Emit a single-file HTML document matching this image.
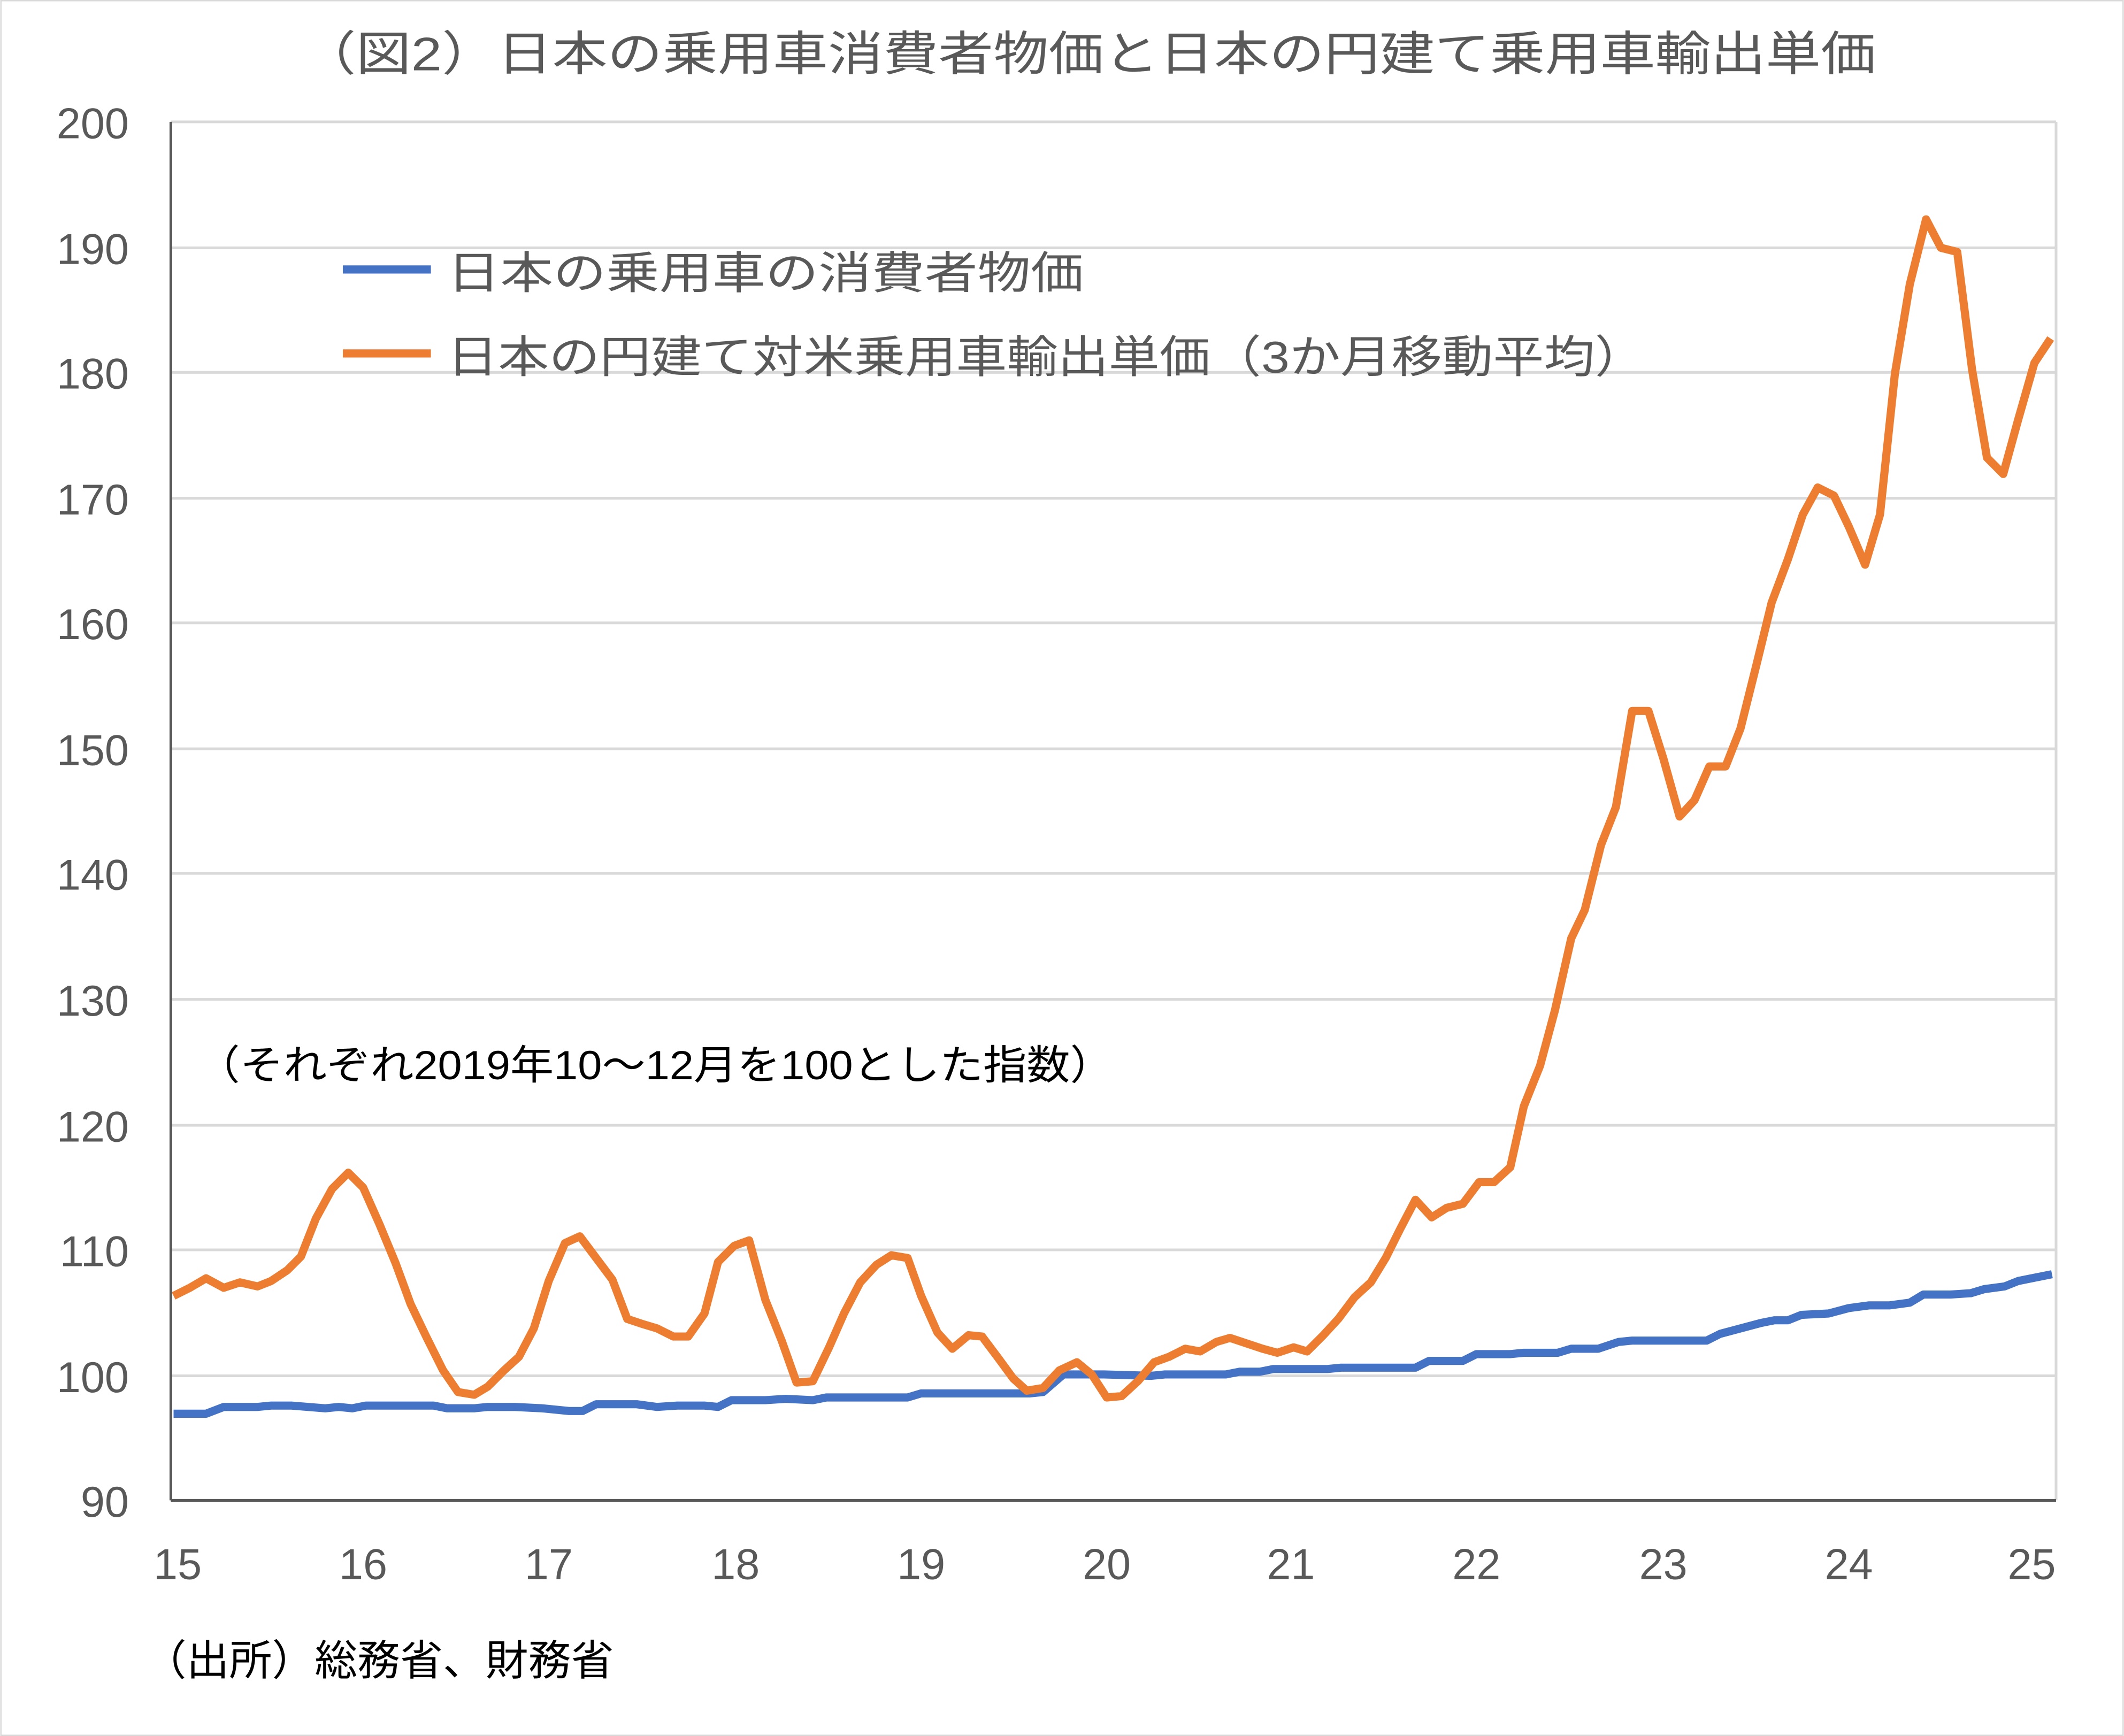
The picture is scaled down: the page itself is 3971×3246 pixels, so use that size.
<!DOCTYPE html>
<html><head><meta charset="utf-8"><style>
html,body{margin:0;padding:0;background:#fff}
svg{display:block}
text{font-family:"Liberation Sans","Noto Sans CJK JP",sans-serif}
</style></head><body>
<svg width="3971" height="3246" viewBox="0 0 1568 1282" xmlns="http://www.w3.org/2000/svg">
<rect x="0.5" y="0.5" width="1567" height="1281" fill="#fff" stroke="#d9d9d9" stroke-width="1"/>
<text x="222" y="52" font-size="35" fill="#595959" textLength="1163" lengthAdjust="spacingAndGlyphs">（図2）日本の乗用車消費者物価と日本の円建て乗用車輸出単価</text>
<g stroke="#d9d9d9" stroke-width="2">
<line x1="126" y1="90" x2="1518" y2="90"/><line x1="126" y1="183" x2="1518" y2="183"/>
<line x1="126" y1="275" x2="1518" y2="275"/><line x1="126" y1="368" x2="1518" y2="368"/>
<line x1="126" y1="460" x2="1518" y2="460"/><line x1="126" y1="553" x2="1518" y2="553"/>
<line x1="126" y1="645" x2="1518" y2="645"/><line x1="126" y1="738" x2="1518" y2="738"/>
<line x1="126" y1="831" x2="1518" y2="831"/><line x1="126" y1="923" x2="1518" y2="923"/>
<line x1="126" y1="1016" x2="1518" y2="1016"/>
<line x1="1518" y1="90" x2="1518" y2="1108"/>
</g>
<g stroke="#595959" stroke-width="2"><line x1="126" y1="90" x2="126" y2="1108"/><line x1="126" y1="1108" x2="1518" y2="1108"/></g>
<g font-size="32" fill="#595959" text-anchor="end">
<text x="95" y="102">200</text><text x="95" y="195">190</text><text x="95" y="287">180</text>
<text x="95" y="380">170</text><text x="95" y="472">160</text><text x="95" y="565">150</text>
<text x="95" y="657">140</text><text x="95" y="750">130</text><text x="95" y="843">120</text>
<text x="95" y="935">110</text><text x="95" y="1028">100</text><text x="95" y="1120">90</text>
</g>
<g font-size="32" fill="#595959" text-anchor="middle">
<text x="131" y="1166">15</text><text x="268" y="1166">16</text><text x="405" y="1166">17</text>
<text x="543" y="1166">18</text><text x="680" y="1166">19</text><text x="817" y="1166">20</text>
<text x="953" y="1166">21</text><text x="1090" y="1166">22</text><text x="1228" y="1166">23</text>
<text x="1365" y="1166">24</text><text x="1500" y="1166">25</text>
</g>
<polyline fill="none" stroke="#4472c4" stroke-width="6" stroke-linejoin="round" points="128,1044 152,1044 165,1039 190,1039 200,1038 215,1038 240,1040 250,1039 260,1040 270,1038 320,1038 330,1040 350,1040 360,1039 380,1039 400,1040 420,1042 430,1042 440,1037 470,1037 485,1039 500,1038 520,1038 530,1039 540,1034 565,1034 580,1033 600,1034 610,1032 670,1032 680,1029 760,1029 770,1028 785,1015 800,1015 815,1015 850,1016 860,1015 905,1015 915,1013 930,1013 940,1011 980,1011 990,1010 1045,1010 1055,1005 1080,1005 1090,1000 1115,1000 1125,999 1150,999 1160,996 1180,996 1195,991 1205,990 1260,990 1270,985 1300,977 1310,975 1320,975 1330,971 1350,970 1365,966 1380,964 1395,964 1410,962 1420,956 1440,956 1455,955 1465,952 1480,950 1490,946 1515,941"/>
<polyline fill="none" stroke="#ed7d31" stroke-width="6" stroke-linejoin="round" points="128,957 140,951 152,944 165,951 177,947 190,950 200,946 212,938 222,928 233,900 245,878 257,866 268,877 280,904 292,933 303,963 315,988 327,1012 338,1028 350,1030 360,1024 372,1012 383,1002 394,981 405,946 417,918 428,913 440,929 452,945 463,974 475,978 485,981 497,987 508,987 520,970 530,932 542,920 553,916 565,960 577,990 588,1021 600,1020 612,995 623,970 635,947 647,934 658,927 670,929 680,957 692,984 703,996 715,986 725,987 737,1003 748,1018 758,1027 770,1025 782,1012 795,1006 806,1015 817,1032 828,1031 840,1020 852,1006 863,1002 875,996 886,998 898,991 908,988 920,992 932,996 943,999 955,995 965,998 977,986 988,974 1000,958 1012,947 1023,929 1034,907 1045,886 1057,899 1068,892 1080,889 1092,873 1103,873 1115,862 1125,817 1137,787 1148,746 1160,693 1170,672 1182,624 1193,596 1205,525 1217,525 1228,560 1240,603 1251,591 1262,566 1274,566 1285,538 1297,490 1308,445 1320,413 1331,380 1342,360 1354,366 1365,389 1377,417 1388,380 1399,276 1410,210 1422,162 1433,183 1445,186 1456,273 1467,338 1479,350 1490,310 1502,268 1514,250"/>
<line x1="253" y1="199" x2="318" y2="199" stroke="#4472c4" stroke-width="6"/>
<line x1="253" y1="261" x2="318" y2="261" stroke="#ed7d31" stroke-width="6"/>
<text x="330" y="213" font-size="33" fill="#595959" textLength="470" lengthAdjust="spacingAndGlyphs">日本の乗用車の消費者物価</text>
<text x="330" y="275" font-size="33" fill="#595959" textLength="885" lengthAdjust="spacingAndGlyphs">日本の円建て対米乗用車輸出単価（3か月移動平均）</text>
<text x="145" y="797" font-size="30" fill="#000" textLength="677" lengthAdjust="spacingAndGlyphs">（それぞれ2019年10～12月を100とした指数）</text>
<text x="106" y="1237" font-size="31" fill="#000" textLength="347" lengthAdjust="spacingAndGlyphs">（出所）総務省、財務省</text>
</svg>
</body></html>
